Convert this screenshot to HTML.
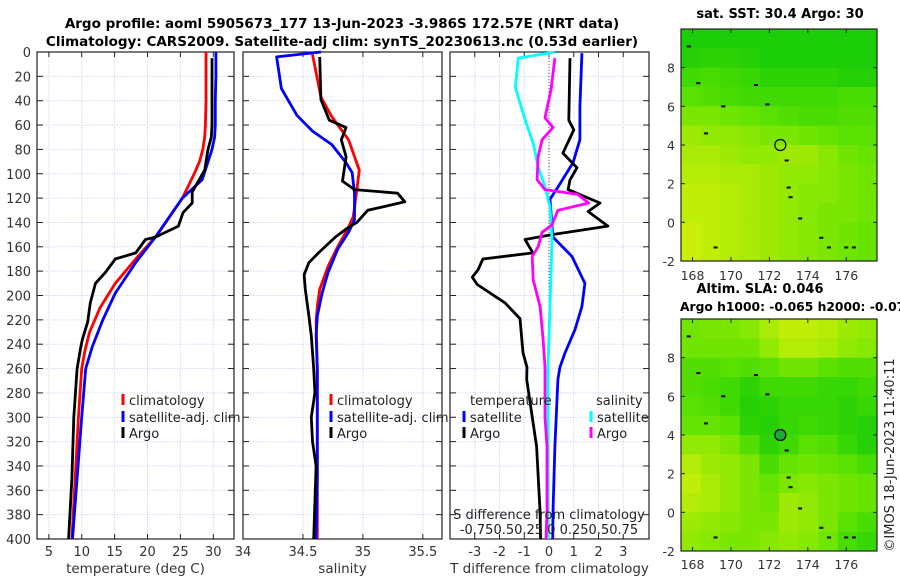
<!DOCTYPE html>
<html><head><meta charset="utf-8"><style>
body{margin:0;background:#fff}
svg{display:block;font-family:"DejaVu Sans","Liberation Sans",sans-serif}
</style></head><body>
<svg id="fig" width="900" height="580" viewBox="0 0 900 580">
<g font-weight="bold" font-size="13.5" text-anchor="middle" fill="#000">
<text x="342" y="28">Argo profile: aoml 5905673_177 13-Jun-2023 -3.986S 172.57E (NRT data)</text>
<text x="342" y="46">Climatology: CARS2009. Satellite-adj clim: synTS_20230613.nc (0.53d earlier)</text>
</g>
<text x="780" y="18" font-weight="bold" font-size="13" text-anchor="middle">sat. SST: 30.4 Argo: 30</text>
<text x="760" y="293" font-weight="bold" font-size="13" text-anchor="middle">Altim. SLA: 0.046</text>
<text x="680" y="311" font-weight="bold" font-size="12.3" text-anchor="start">Argo h1000: -0.065 h2000: -0.079</text>
<text transform="translate(894,455) rotate(-90)" font-size="13" text-anchor="middle" fill="#222">©IMOS 18-Jun-2023 11:40:11</text>
</svg>
<script>
// ---- data ----
const tDepth   = [0,20,40,60,70,80,90,100,120,150,170,190,210,230,245,260,300,350,400];
const tClim    = [28.9,28.9,28.9,28.8,28.7,28.4,27.9,27.1,25.3,21.5,18.2,15.1,12.8,11.2,10.5,10.0,9.5,9.0,8.5];
const tSatDepth= [0,20,40,60,70,80,100,105,120,152,173,198,220,242,260,300,350,400];
const tSat     = [30.4,30.4,30.3,30.3,30.2,29.8,28.6,28.3,25.3,21.2,18.2,15.1,13.2,11.6,10.6,10.0,9.3,8.6];
const tArgoDepth=[5,20,40,60,70,80,97,115,124,132,143,152,154,165,170,181,190,206,222,236,244,260,300,350,400];
const tArgo    = [29.8,29.8,29.8,29.8,29.7,29.2,28.7,26.8,26.8,25.4,24.7,21.2,19.7,18.2,15.1,13.6,12.1,11.3,10.9,10.1,9.8,9.3,8.8,8.5,8.0];

const sClimDepth=[2,37,53,72,97,113,135,144,160,176,195,209,222,260,300,350,400];
const sClim    = [34.58,34.65,34.74,34.88,34.97,34.95,34.92,34.88,34.79,34.71,34.64,34.62,34.61,34.62,34.62,34.62,34.62];
const sSatDepth= [0,4,30,52,65,76,91,99,116,138,148,162,181,198,217,233,260,300,350,400];
const sSat     = [34.65,34.28,34.32,34.45,34.58,34.74,34.86,34.91,34.93,34.93,34.88,34.79,34.71,34.66,34.62,34.61,34.62,34.62,34.62,34.61];
const sArgoDepth=[4,39,56,62,72,86,106,113,116,123,130,140,144,152,165,173,183,195,217,233,260,280,300,320,340,370,400];
const sArgo    = [34.64,34.65,34.72,34.86,34.82,34.86,34.83,34.93,35.29,35.35,35.04,34.95,34.88,34.77,34.63,34.55,34.51,34.52,34.55,34.57,34.59,34.60,34.57,34.58,34.61,34.60,34.59];

const dTSatDepth=[1,45,72,91,111,121,143,152,168,190,209,228,247,259,269,324,378,400];
const dTSat    = [1.33,1.25,1.25,0.97,0.36,0.04,0.12,0.16,0.93,1.45,1.33,1.05,0.65,0.44,0.36,0.24,0.16,0.15];
const dTArgoDepth=[5,56,64,83,95,105,113,124,131,143,150,154,165,170,179,185,191,206,219,236,247,259,269,324,378,400];
const dTArgo   = [0.85,0.8,1.0,0.56,1.13,0.85,0.77,2.06,1.58,2.38,0.12,-0.97,-0.65,-2.67,-2.87,-3.1,-2.9,-1.78,-1.17,-1.1,-1.05,-0.89,-0.9,-0.5,-0.36,-0.34];
const dSSatDepth=[0,5,29,56,75,94,111,127,154,209,259,300,350,400];
const dSSat    = [0.06,-0.31,-0.34,-0.24,-0.16,-0.11,-0.04,0.01,0.03,0.01,-0.01,-0.01,-0.01,-0.01];
const dSArgoDepth=[5,31,54,62,72,86,105,113,117,124,130,142,148,160,168,187,209,236,259,269,300,324,378,400];
const dSArgo   = [0.06,0.02,-0.04,0.04,-0.07,-0.11,-0.12,-0.04,0.29,0.40,0.09,0.03,-0.07,-0.11,-0.17,-0.16,-0.09,-0.06,-0.04,-0.04,-0.04,-0.02,-0.02,-0.03];

const depthTicks=[0,20,40,60,80,100,120,140,160,180,200,220,240,260,280,300,320,340,360,380,400];
const tTicks=[5,10,15,20,25,30];
const sTicks=[34,34.5,35,35.5];
const dTicks=[-3,-2,-1,0,1,2,3];

// maps (rows lat 10 -> -2, cols lon 167.4 -> 177.6), 0=green 1=yellow
const sstGrid=[
[0.1,0.1,0.1,0.1,0.1,0.1,0.1,0.1,0.1,0.1],
[0.15,0.2,0.2,0.15,0.1,0.1,0.1,0.1,0.1,0.1],
[0.3,0.35,0.3,0.25,0.2,0.2,0.2,0.2,0.15,0.15],
[0.45,0.4,0.35,0.3,0.3,0.3,0.3,0.3,0.35,0.35],
[0.6,0.6,0.55,0.5,0.45,0.4,0.35,0.35,0.4,0.4],
[0.75,0.7,0.7,0.65,0.6,0.6,0.55,0.5,0.45,0.45],
[0.8,0.8,0.75,0.7,0.7,0.75,0.75,0.65,0.55,0.5],
[0.85,0.85,0.8,0.8,0.75,0.7,0.7,0.65,0.6,0.55],
[0.9,0.9,0.85,0.8,0.75,0.7,0.65,0.65,0.6,0.55],
[0.9,0.9,0.85,0.8,0.75,0.7,0.65,0.6,0.6,0.55],
[0.95,0.9,0.85,0.8,0.75,0.7,0.65,0.6,0.55,0.5],
[0.95,0.9,0.85,0.8,0.75,0.7,0.65,0.6,0.55,0.5]];
const slaGrid=[
[0.55,0.6,0.6,0.65,0.8,0.9,0.9,0.85,0.75,0.7],
[0.55,0.55,0.55,0.55,0.7,0.85,0.85,0.8,0.7,0.65],
[0.4,0.4,0.45,0.4,0.45,0.55,0.55,0.45,0.4,0.4],
[0.4,0.35,0.3,0.2,0.3,0.3,0.3,0.25,0.25,0.3],
[0.45,0.4,0.3,0.15,0.2,0.25,0.25,0.25,0.2,0.25],
[0.5,0.5,0.45,0.2,0.15,0.25,0.3,0.25,0.2,0.15],
[0.7,0.7,0.6,0.4,0.2,0.3,0.45,0.4,0.25,0.15],
[0.85,0.75,0.7,0.6,0.35,0.5,0.55,0.5,0.45,0.35],
[0.9,0.8,0.7,0.6,0.5,0.6,0.65,0.6,0.55,0.5],
[0.85,0.8,0.7,0.6,0.55,0.75,0.7,0.6,0.55,0.5],
[0.75,0.7,0.65,0.6,0.6,0.75,0.7,0.6,0.45,0.35],
[0.7,0.65,0.6,0.6,0.65,0.7,0.65,0.55,0.35,0.25]];
const islandLon=[167.8,168.3,169.6,171.3,171.9,172.9,173.0,173.1,173.6,174.7,175.1,176.0,176.4,169.2,168.7];
const islandLat=[9.1,7.2,6.0,7.1,6.1,3.2,1.8,1.3,0.2,-0.8,-1.3,-1.3,-1.3,-1.3,4.6];
const lonTicks=[168,170,172,174,176];
const latTicks=[-2,0,2,4,6,8];
const floatLon=172.57, floatLat=4.0;

// ---- drawing ----
const NS='http://www.w3.org/2000/svg';
const svg=document.getElementById('fig');
function mk(tag,at,parent){const e=document.createElementNS(NS,tag);for(const k in at)e.setAttribute(k,at[k]);(parent||svg).appendChild(e);return e;}
const Y0=52,Y1=539;
const yS=d=>Y0+d/400*(Y1-Y0);

function panel(name,x0,x1,d0,d1,ticks,fmt,title,showY){
  const g=mk('g',{});
  
  
  const xS=v=>x0+(v-d0)/(d1-d0)*(x1-x0);
  ticks.forEach(t=>{const l=mk('line',{x1:xS(t),x2:xS(t),y1:Y0,y2:Y1,stroke:'#c4cdf0','stroke-width':1,'stroke-dasharray':'1,1.5'},g);
    
    const tx=mk('text',{x:xS(t),y:556,'font-size':13,'text-anchor':'middle',fill:'#333'},g);tx.textContent=fmt(t);
    
    mk('line',{x1:xS(t),x2:xS(t),y1:Y1,y2:Y1-5,stroke:'#222'},g);mk('line',{x1:xS(t),x2:xS(t),y1:Y0,y2:Y0+5,stroke:'#222'},g);});
  depthTicks.forEach(d=>{const l=mk('line',{x1:x0,x2:x1,y1:yS(d),y2:yS(d),stroke:'#c4cdf0','stroke-width':1,'stroke-dasharray':'1,1.5'},g);
    
    mk('line',{x1:x0,x2:x0+6,y1:yS(d),y2:yS(d),stroke:'#222'},g);mk('line',{x1:x1,x2:x1-6,y1:yS(d),y2:yS(d),stroke:'#222'},g);
    if(showY){const tx=mk('text',{x:31,y:yS(d)+5,'font-size':13,'text-anchor':'end',fill:'#333'},g);tx.textContent=d;
      }});
  const fr=mk('rect',{x:x0,y:Y0,width:x1-x0,height:Y1-Y0,fill:'none',stroke:'#222','stroke-width':1.2},g);
  
  const at=mk('text',{x:(x0+x1)/2,y:573,'font-size':13.5,'text-anchor':'middle',fill:'#333'},g);at.textContent=title;
  
  return {g,xS};
}
function series(p,depths,vals,color,nm,scale){
  const pts=depths.map((d,i)=>p.xS(vals[i]*(scale||1)).toFixed(1)+','+yS(d).toFixed(1)).join(' ');
  const l=mk('polyline',{points:pts,fill:'none',stroke:color,'stroke-width':2.8,'stroke-linejoin':'round'},p.g);
  
}
function legend(g,x,y,color,label){
  const r=mk('rect',{x:x-1.5,y:y-11,width:3,height:11,fill:color},g);
  
  const t=mk('text',{x:x+6,y:y,'font-size':13,fill:'#222'},g);t.textContent=label;
  
}

const p1=panel('temperature-panel',37,234,3.2,33.15,tTicks,String,'temperature (deg C)',true);
series(p1,tDepth,tClim,'#f00','temp-climatology-line');
series(p1,tSatDepth,tSat,'#00f','temp-satellite-line');
series(p1,tArgoDepth,tArgo,'#000','temp-argo-line');
legend(p1.g,123,405,'#f00','climatology');legend(p1.g,123,422,'#00f','satellite-adj. clim');legend(p1.g,123,438,'#000','Argo');

const p2=panel('salinity-panel',243,442,34,35.66,sTicks,String,'salinity',false);
series(p2,sClimDepth,sClim,'#f00','sal-climatology-line');
series(p2,sSatDepth,sSat,'#00f','sal-satellite-line');
series(p2,sArgoDepth,sArgo,'#000','sal-argo-line');
legend(p2.g,331,405,'#f00','climatology');legend(p2.g,331,422,'#00f','satellite-adj. clim');legend(p2.g,331,438,'#000','Argo');

const p3=panel('difference-panel',450,649,-4,4.04,dTicks,String,'T difference from climatology',false);
const z=mk('line',{x1:p3.xS(0),x2:p3.xS(0),y1:Y0,y2:Y1,stroke:'#555','stroke-dasharray':'1,2'},p3.g);

series(p3,dTSatDepth,dTSat,'#00f','tdiff-satellite-line');
series(p3,dTArgoDepth,dTArgo,'#000','tdiff-argo-line');
series(p3,dSSatDepth,dSSat,'#0ff','sdiff-satellite-line',4);
series(p3,dSArgoDepth,dSArgo,'#f0f','sdiff-argo-line',4);
{const t=mk('text',{x:470,y:405,'font-size':13,fill:'#222'},p3.g);t.textContent='temperature';
 const s=mk('text',{x:596,y:405,'font-size':13,fill:'#222'},p3.g);s.textContent='salinity';}
legend(p3.g,464,422,'#00f','satellite');legend(p3.g,464,438,'#000','Argo');
legend(p3.g,591,422,'#0ff','satellite');legend(p3.g,591,438,'#f0f','Argo');
{const t=mk('text',{x:549,y:519,'font-size':13,'text-anchor':'middle',fill:'#222'},p3.g);t.textContent='S difference from climatology';
 const s=mk('text',{x:549,y:534,'font-size':13,'text-anchor':'middle',fill:'#222'},p3.g);s.textContent='-0.750.50.25 0 0.250.50.75';}

function cmap(v){const a=[10,200,10],b=[100,228,0],c=[215,240,10];let r,t;
  if(v<0.5){t=v/0.5;r=a.map((x,i)=>x+(b[i]-x)*t);}else{t=(v-0.5)/0.5;r=b.map((x,i)=>x+(c[i]-x)*t);}
  return 'rgb('+r.map(Math.round).join(',')+')';}
function map(name,grid,x0,x1,y0,y1,lblY,markerFill){
  const g=mk('g',{});
  
  
  const lon0=167.4,lon1=177.6,lat0=-2,lat1=10;
  const xS=l=>x0+(l-lon0)/(lon1-lon0)*(x1-x0), yM=l=>y1-(l-lat0)/(lat1-lat0)*(y1-y0);
  const nr=grid.length,nc=grid[0].length,cw=(x1-x0)/nc,ch=(y1-y0)/nr;
  grid.forEach((row,i)=>row.forEach((v,j)=>{const r=mk('rect',{x:x0+j*cw,y:y0+i*ch,width:cw+0.5,height:ch+0.5,fill:cmap(v)},g);
    }));
  islandLon.forEach((lo,i)=>{const r=mk('rect',{x:xS(lo)-2,y:yM(islandLat[i])-1,width:4,height:2,fill:'#000'},g);
    });
  const c=mk('circle',{cx:xS(floatLon),cy:yM(floatLat),r:5.5,fill:markerFill,stroke:'#000','stroke-width':1.2},g);
  
  mk('rect',{x:x0,y:y0,width:x1-x0,height:y1-y0,fill:'none',stroke:'#222','stroke-width':1.2},g);
  lonTicks.forEach(l=>{mk('line',{x1:xS(l),x2:xS(l),y1:y1,y2:y1-4,stroke:'#222'},g);mk('line',{x1:xS(l),x2:xS(l),y1:y0,y2:y0+4,stroke:'#222'},g);
    const t=mk('text',{x:xS(l),y:lblY,'font-size':12.5,'text-anchor':'middle',fill:'#333'},g);t.textContent=l;
    });
  latTicks.forEach(l=>{mk('line',{x1:x0,x2:x0+4,y1:yM(l),y2:yM(l),stroke:'#222'},g);mk('line',{x1:x1,x2:x1-4,y1:yM(l),y2:yM(l),stroke:'#222'},g);
    const t=mk('text',{x:675,y:yM(l)+5,'font-size':12.5,'text-anchor':'end',fill:'#333'},g);t.textContent=l;
    });
}
map('sst-map',sstGrid,681,877,29,261,280,'none');
map('sla-map',slaGrid,681,877,319,551,569,'#1fa83a');
</script>
</body></html>
